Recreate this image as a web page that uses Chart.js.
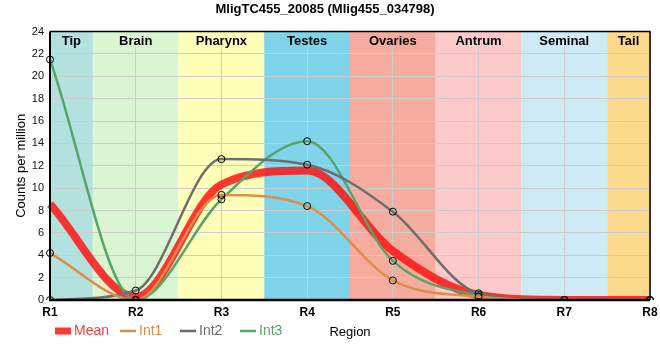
<!DOCTYPE html>
<html>
<head>
<meta charset="utf-8">
<script src="https://cdn.jsdelivr.net/npm/chart.js@4.4.1/dist/chart.umd.min.js"></script>
<style>
    body { margin: 0; background: #fff; }
    #wrap { width: 660px; height: 360px; }
</style>
</head>
<body>
<div id="wrap"><canvas id="chart"></canvas></div>
<script>
const REGIONS = ['R1', 'R2', 'R3', 'R4', 'R5', 'R6', 'R7', 'R8'];
const MEAN = [8.57, 0.28, 10.33, 11.57, 4.38, 0.45, 0, 0];
const INT1 = [4.2, 0, 9.4, 8.4, 1.75, 0.3, 0, 0];
const INT2 = [0, 0.85, 12.6, 12.1, 7.9, 0.6, 0, 0];
const INT3 = [21.5, 0, 9.0, 14.2, 3.5, 0.45, 0, 0];
const BAND_NAMES = ['Tip', 'Brain', 'Pharynx', 'Testes', 'Ovaries', 'Antrum', 'Seminal', 'Tail'];
const BAND_COLORS = ['#b3e2de', '#d9f6d0', '#ffffb8', '#7fd4ea', '#f5ac9e', '#fdcacb', '#ceeaf4', '#fdd98b'];

const FONT = "'Liberation Sans', Arial, sans-serif";
const LEGEND_X = [55, 120, 180, 240];

Chart.defaults.font.family = FONT;
Chart.defaults.color = '#000';

const regionPlugin = {
    id: 'regions',
    beforeDraw(chart) {
        const { ctx, chartArea: a, scales: { x } } = chart;
        ctx.save();
        BAND_NAMES.forEach((name, i) => {
            const l = Math.max(a.left, x.getPixelForValue(i - 0.5));
            const r = Math.min(a.right, x.getPixelForValue(i + 0.5));
            ctx.fillStyle = BAND_COLORS[i];
            ctx.fillRect(l, a.top, r - l, a.bottom - a.top);
        });
        ctx.restore();
    },
    beforeDatasetsDraw(chart) {
        // label strip sits over the grid lines
        const { ctx, chartArea: a, scales: { x } } = chart;
        ctx.save();
        ctx.font = `bold 13px ${FONT}`;
        ctx.textAlign = 'center';
        ctx.textBaseline = 'middle';
        BAND_NAMES.forEach((name, i) => {
            const l = Math.max(a.left, x.getPixelForValue(i - 0.5));
            const r = Math.min(a.right, x.getPixelForValue(i + 0.5));
            ctx.fillStyle = BAND_COLORS[i];
            ctx.fillRect(l, a.top, r - l, 15);
            ctx.fillStyle = '#000';
            ctx.fillText(name, (l + r) / 2, a.top + 10);
        });
        ctx.restore();
    },
    afterDatasetsDraw(chart) {
        const { ctx, chartArea: a } = chart;
        ctx.save();
        ctx.strokeStyle = '#000';
        ctx.lineWidth = 1.5;
        ctx.beginPath();
        ctx.moveTo(a.left, a.top);
        ctx.lineTo(a.right, a.top);
        ctx.lineTo(a.right, a.bottom);
        ctx.stroke();
        ctx.lineWidth = 2;
        ctx.beginPath();
        ctx.moveTo(a.left, a.top);
        ctx.lineTo(a.left, a.bottom);
        ctx.stroke();
        ctx.lineWidth = 2.5;
        ctx.beginPath();
        ctx.moveTo(a.left - 1, a.bottom);
        ctx.lineTo(a.right, a.bottom);
        ctx.stroke();
        ctx.restore();
    },
    afterDraw(chart) {
        const { ctx } = chart;
        const y = 331;
        ctx.save();
        ctx.font = `14px ${FONT}`;
        ctx.textBaseline = 'middle';
        chart.data.datasets.forEach((ds, i) => {
            const x0 = LEGEND_X[i];
            ctx.strokeStyle = ds.borderColor;
            ctx.lineWidth = ds.legendWidth;
            ctx.beginPath();
            ctx.moveTo(x0, y);
            ctx.lineTo(x0 + 16, y);
            ctx.stroke();
            ctx.fillStyle = ds.borderColor;
            ctx.fillText(ds.label, x0 + 19, y + 0.5);
        });
        ctx.restore();
    }
};

const series = (label, data, color, width, extra) => Object.assign({
    label,
    data,
    borderColor: color,
    borderWidth: width,
    legendWidth: width,
    cubicInterpolationMode: 'monotone',
    pointRadius: 3.5,
    pointBorderWidth: 1,
    pointBorderColor: '#000',
    pointBackgroundColor: 'rgba(0,0,0,0)',
    fill: false,
    order: 0
}, extra || {});

new Chart(document.getElementById('chart'), {
    type: 'line',
    data: {
        labels: REGIONS,
        datasets: [
            series('Mean', MEAN, 'rgba(255,20,20,0.85)', 8, { pointRadius: 0, order: 10, legendWidth: 7 }),
            series('Int1', INT1, '#e08c48', 2.5),
            series('Int2', INT2, '#6e6e6e', 2.5),
            series('Int3', INT3, '#55a468', 2.5)
        ]
    },
    options: {
        responsive: true,
        maintainAspectRatio: false,
        animation: false,
        layout: { padding: { left: 0, right: 10, top: 0, bottom: 0 } },
        plugins: {
            legend: { display: false },
            tooltip: { enabled: false },
            title: {
                display: true,
                text: 'MligTC455_20085 (Mlig455_034798)',
                font: { size: 13, weight: 'bold' },
                color: '#000',
                padding: { top: 2, bottom: 14 }
            }
        },
        scales: {
            x: {
                offset: false,
                grid: { color: '#cccccc', lineWidth: 1, drawTicks: false },
                border: { display: false },
                ticks: { font: { size: 12, weight: 'bold' }, color: '#000', padding: 5, maxRotation: 0 },
                title: { display: true, text: 'Region', font: { size: 13 }, color: '#000', padding: { top: 0, bottom: 20 } },
                afterFit(scale) {
                    scale.height = 60;
                    scale.paddingLeft = 0;
                    scale.paddingRight = 0;
                }
            },
            y: {
                min: 0,
                max: 24,
                grid: { color: '#cccccc', lineWidth: 1, drawTicks: false },
                border: { display: false },
                ticks: { stepSize: 2, font: { size: 11 }, color: '#111', padding: 6 },
                title: { display: true, text: 'Counts per million', font: { size: 13 }, color: '#000', padding: { top: 14, bottom: 0 } },
                afterFit(scale) { scale.width = 50; }
            }
        }
    },
    plugins: [regionPlugin]
});
</script>
</body>
</html>
